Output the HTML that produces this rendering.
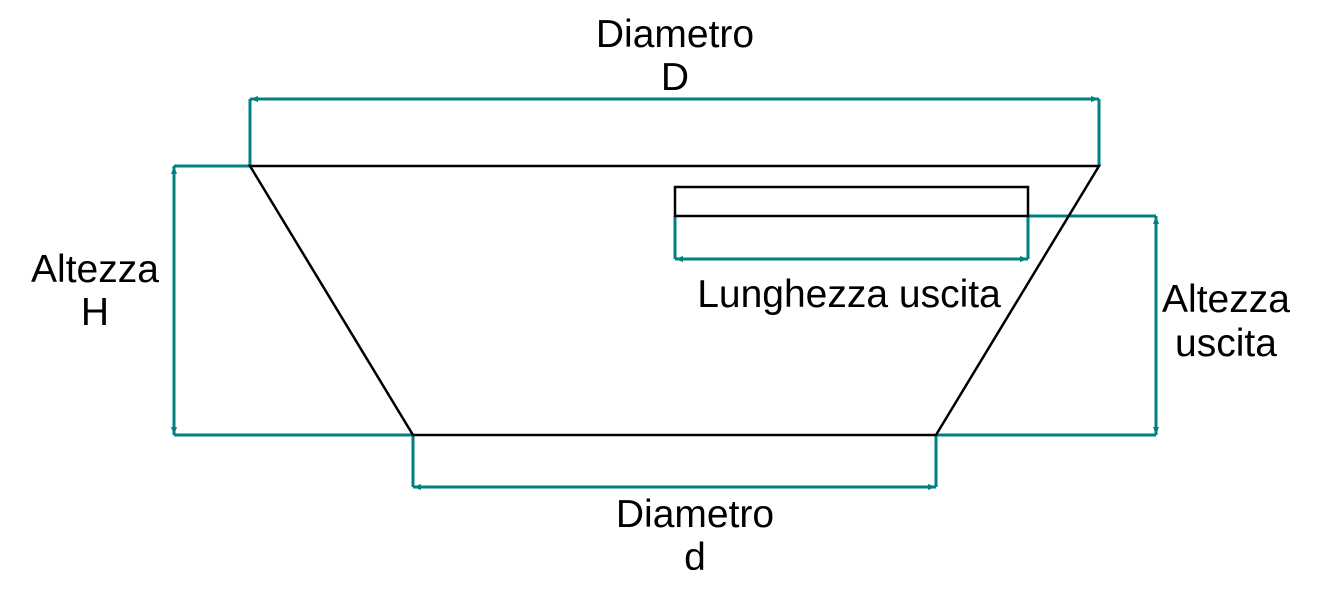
<!DOCTYPE html>
<html><head><meta charset="utf-8"><style>html,body{margin:0;padding:0;background:#fff}svg{display:block}</style></head>
<body>
<svg width="1331" height="593" viewBox="0 0 1331 593" xmlns="http://www.w3.org/2000/svg" font-family="Liberation Sans, Arial, sans-serif" font-size="39">
<defs>
<marker id="a" viewBox="0 0 12 7" refX="12" refY="3.5" markerWidth="12" markerHeight="7" markerUnits="userSpaceOnUse" orient="auto-start-reverse"><path d="M12,3.5 L4,0.5 L4,6.5 Z M0,2 H6 V5 H0 Z" fill="#008080"/></marker>
</defs>
<g stroke="#008080" stroke-width="3" fill="none">
<path d="M250,166 V99 M1099,166 V99"/>
<path d="M250,99 H1099" marker-start="url(#a)" marker-end="url(#a)"/>
<path d="M250,166 H174 M413,435 H174"/>
<path d="M174,166 V435" marker-start="url(#a)" marker-end="url(#a)"/>
<path d="M1028,216 H1156 M936,435 H1156"/>
<path d="M1156,216 V435" marker-start="url(#a)" marker-end="url(#a)"/>
<path d="M675,216 V259 M1028,216 V259"/>
<path d="M675,259 H1028" marker-start="url(#a)" marker-end="url(#a)"/>
<path d="M413,435 V487 M936,435 V487"/>
<path d="M413,487 H936" marker-start="url(#a)" marker-end="url(#a)"/>
</g>
<g stroke="#000" stroke-width="2.5" fill="none">
<path d="M250,166 H1099 L936,435 H413 Z"/>
<rect x="675" y="187" width="353" height="29"/>
</g>
<g fill="#000" text-anchor="middle">
<text x="675" y="47">Diametro</text>
<text x="675" y="90">D</text>
<text x="95" y="282">Altezza</text>
<text x="95" y="325">H</text>
<text x="849" y="307">Lunghezza uscita</text>
<text x="1226" y="312">Altezza</text>
<text x="1226" y="356">uscita</text>
<text x="695" y="527">Diametro</text>
<text x="695" y="570">d</text>
</g>
</svg>
</body></html>
